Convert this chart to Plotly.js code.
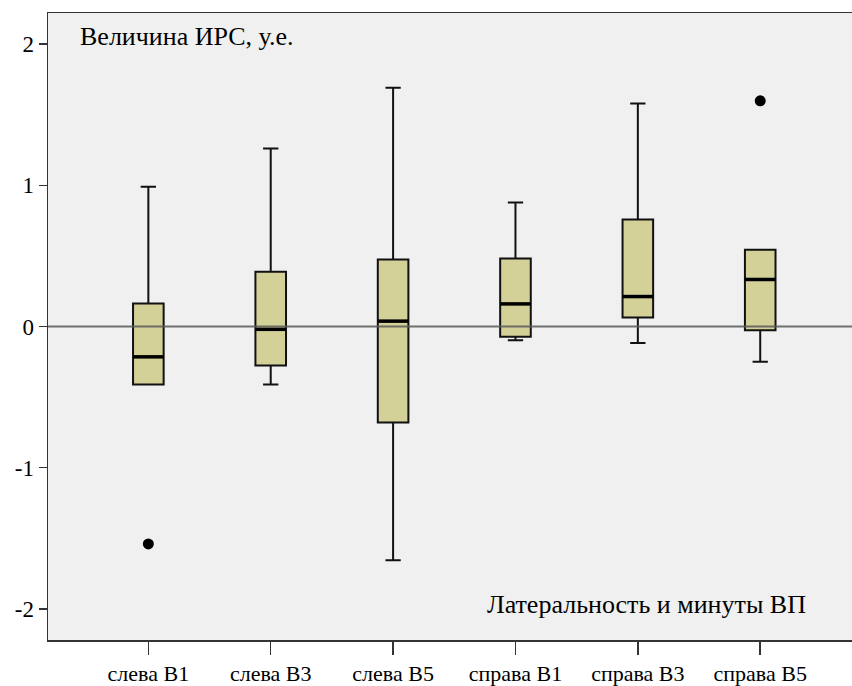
<!DOCTYPE html>
<html>
<head>
<meta charset="utf-8">
<script src="https://cdn.plot.ly/plotly-3.0.1.min.js"></script>
<style>
html,body{margin:0;padding:0;background:#fff;overflow:hidden;}
#chart{width:852px;height:686px;}
#chart text{font-family:"Liberation Serif","Times New Roman",Times,serif !important;}
</style>
</head>
<body>
<div id="chart"></div>
<script>
const categories = ["слева B1", "слева B3", "слева B5", "справа B1", "справа B3", "справа B5"];
const lowerWhisker = [-0.41, -0.41, -1.655, -0.097, -0.116, -0.25];
const q1 = [-0.41, -0.276, -0.68, -0.073, 0.064, -0.026];
const median = [-0.215, -0.02, 0.038, 0.16, 0.212, 0.333];
const q3 = [0.163, 0.387, 0.474, 0.481, 0.757, 0.543];
const upperWhisker = [0.99, 1.26, 1.69, 0.878, 1.58, 0.543];
const outlierCategory = ["слева B1", "справа B5"];
const outlierValue = [-1.54, 1.598];
const yTicks = [-2, -1, 0, 1, 2];

const idx = categories.map((c, i) => i);
const boxW = 0.25;

const medX = [], medY = [];
idx.forEach(i => { medX.push(i - boxW / 2, i + boxW / 2, null); medY.push(median[i], median[i], null); });

const FAM = '"Liberation Serif", "Times New Roman", Times, serif';

const traces = [
  {
    type: "box",
    x: idx,
    q1: q1, median: median, q3: q3,
    lowerfence: lowerWhisker, upperfence: upperWhisker,
    width: boxW,
    whiskerwidth: 0.5,
    fillcolor: "#d4d198",
    line: { color: "#111", width: 2 },
    boxpoints: false,
    hoverinfo: "skip",
    showlegend: false
  },
  {
    type: "scatter", mode: "lines",
    x: medX, y: medY,
    line: { color: "#000", width: 3.5 },
    hoverinfo: "skip", showlegend: false
  },
  {
    type: "scatter", mode: "markers",
    x: outlierCategory.map(c => categories.indexOf(c)),
    y: outlierValue,
    marker: { color: "#000", size: 11 },
    hoverinfo: "skip", showlegend: false
  }
];

const layout = {
  width: 852, height: 686,
  margin: { l: 48, r: 0, t: 13, b: 46 },
  paper_bgcolor: "#ffffff",
  plot_bgcolor: "#f0f0f0",
  font: { family: FAM, size: 23, color: "#000" },
  showlegend: false,
  xaxis: {
    range: [-0.82, 5.75],
    tickvals: idx, ticktext: categories,
    ticks: "outside", ticklen: 13, tickwidth: 1.5, tickcolor: "#333",
    showline: true, linecolor: "#333", linewidth: 1.5, mirror: true,
    showgrid: false, zeroline: false,
    tickfont: { family: FAM, size: 22, color: "#000" }
  },
  yaxis: {
    range: [-2.22, 2.22],
    tickvals: yTicks, ticktext: yTicks.map(String),
    ticks: "outside", ticklen: 8, tickwidth: 1.5, tickcolor: "#333",
    showline: true, linecolor: "#333", linewidth: 1.5,
    showgrid: false, zeroline: false,
    tickfont: { family: FAM, size: 23, color: "#000" }
  },
  shapes: [
    { type: "line", xref: "paper", x0: 0, x1: 1, yref: "y", y0: 0, y1: 0,
      line: { color: "rgba(90,90,90,0.85)", width: 2 }, layer: "above" }
  ],
  annotations: [
    { text: "Величина ИРС, у.е.", xref: "paper", yref: "paper", x: 0.037, y: 0.989,
      xanchor: "left", yanchor: "top", showarrow: false,
      font: { family: FAM, size: 26, color: "#000" } },
    { text: "Латеральность и минуты ВП", xref: "paper", yref: "paper", x: 0.945, y: 0.03,
      xanchor: "right", yanchor: "bottom", showarrow: false,
      font: { family: FAM, size: 26, color: "#000" } }
  ]
};

Plotly.newPlot("chart", traces, layout, { displayModeBar: false, staticPlot: true });
</script>
</body>
</html>
